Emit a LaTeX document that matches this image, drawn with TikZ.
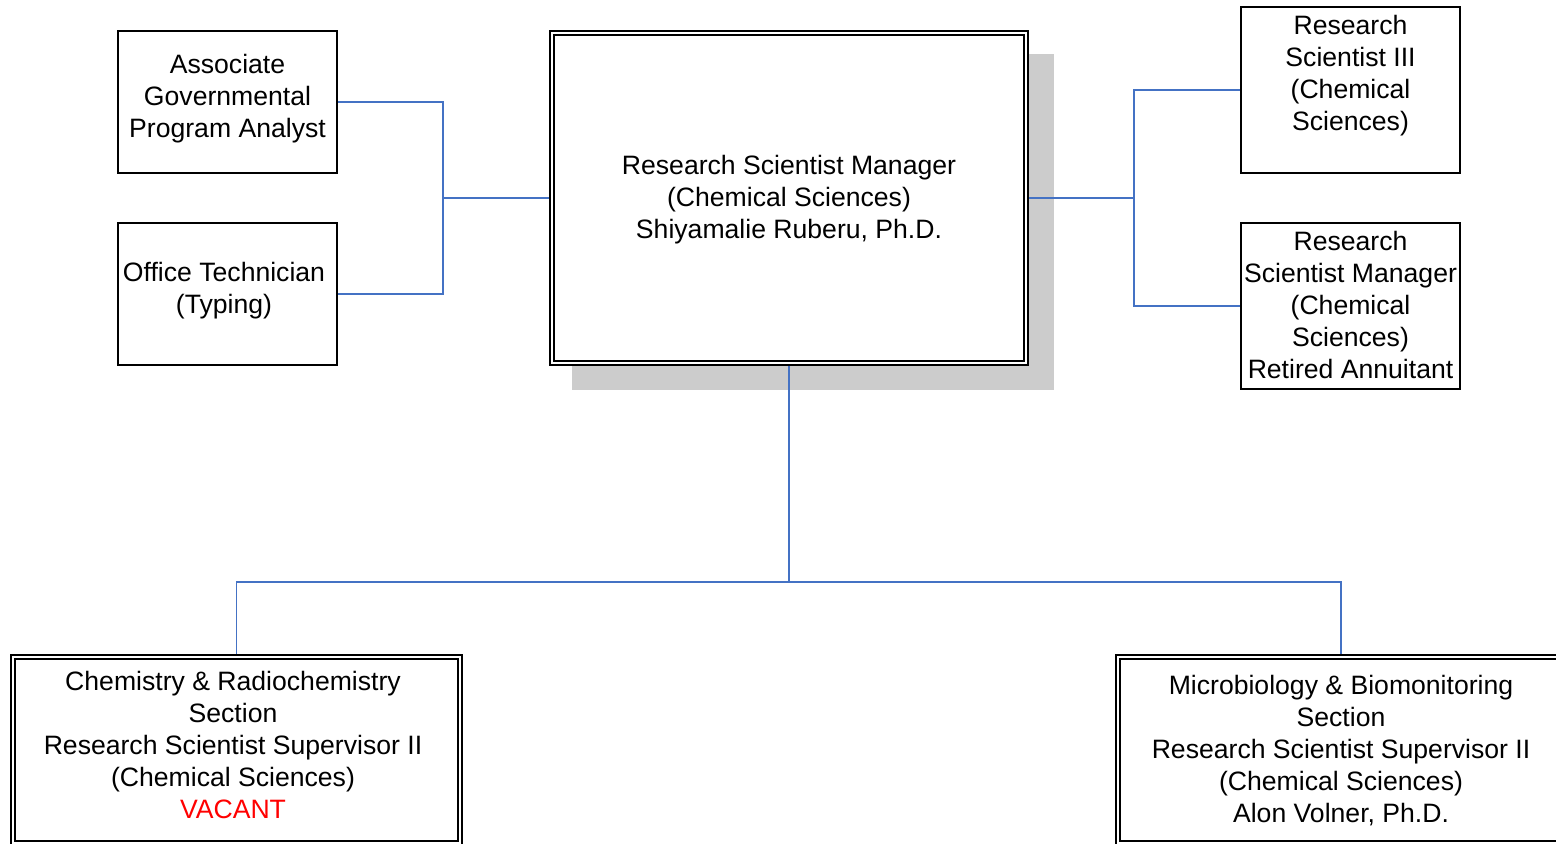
\documentclass[tikz,border=0pt]{standalone}
\usepackage{fontspec}
\setmainfont{Liberation Sans}
\usetikzlibrary{shadows}
\tikzset{>=latex}
\definecolor{linkblue}{RGB}{68,114,196}
\def\myvacant#1{\textcolor{red}{#1}}
\tikzset{
  post/.style={draw=black, line width=1pt, rectangle, inner sep=0pt},
  dpost/.style={draw=black, double=white, double distance=1.2pt, line width=0.9pt,
    rectangle, inner sep=0pt, outer sep=1.5pt, fill=white},
  txt/.style={align=center, inner sep=0pt, font=\fontsize{13.3}{16}\selectfont},
  link/.style={draw=linkblue, line width=0.75pt}
}

\begin{document}
\begin{tikzpicture}[x=0.5pt, y=-0.5pt]
          \clip (0,0) rectangle (1556,843);
          \node[post, minimum width=109.5pt, minimum height=71pt] (agpa) at (227.5,102) {};
          \node[post, minimum width=109.5pt, minimum height=71pt] (ot) at (227.5,294) {};
          \node[dpost, minimum width=237pt, minimum height=165pt,
            drop shadow={shadow xshift=12pt, shadow yshift=-11.75pt, shadow scale=1.017,
              fill=black!20, opacity=1}] (rsm) at (789,198) {};
          \node[post, minimum width=109.5pt, minimum height=83pt] (rs3) at (1350.5,90) {};
          \node[post, minimum width=109.5pt, minimum height=83pt] (rsmra) at (1350.5,306) {};
          \node[dpost, minimum width=223.5pt, minimum height=93pt] (crs) at (236.5,750) {};
          \node[dpost, minimum width=223pt, minimum height=93pt] (mbs) at (1341,750) {};

          \node[txt] (agpa-t) at (227.5,99) {Associate\\Governmental\\Program Analyst};
          \node[txt] (ot-t) at (224,291) {Office Technician\\(Typing)};
          \node[txt] (rsm-t) at (789,200) {Research Scientist Manager\\(Chemical Sciences)\\Shiyamalie Ruberu, Ph.D.};
          \node[txt] (rs3-t) at (1350.5,76) {Research\\Scientist III\\(Chemical\\Sciences)};
          \node[txt] (rsmra-t) at (1350.5,305) {Research\\Scientist Manager\\(Chemical\\Sciences)\\Retired Annuitant};
          \node[txt] (crs-t) at (233,745) {Chemistry \& Radiochemistry\\Section\\Research Scientist Supervisor II\\(Chemical Sciences)\\\myvacant{VACANT}};
          \node[txt] (mbs-t) at (1341,751) {Microbiology \& Biomonitoring\\Section\\Research Scientist Supervisor II\\(Chemical Sciences)\\Alon Volner, Ph.D.};

          \coordinate (jl) at (443,198);
          \coordinate (jr) at (1134,198);
          \coordinate (jb) at (789,582);

          \path[link] (agpa.east) -| (jl);
          \path[link] (ot.east) -| (jl);
          \path[link] (jl) -- (rsm.west);
          \path[link] (rsm.east) -- (jr);
          \path[link] (jr) |- (rs3.west);
          \path[link] (jr) |- (rsmra.west);
          \path[link] (rsm.south) -- (jb);
          \path[link] (jb) -| (crs.north);
          \path[link] (jb) -| (mbs.north);
        \end{tikzpicture}
\end{document}
